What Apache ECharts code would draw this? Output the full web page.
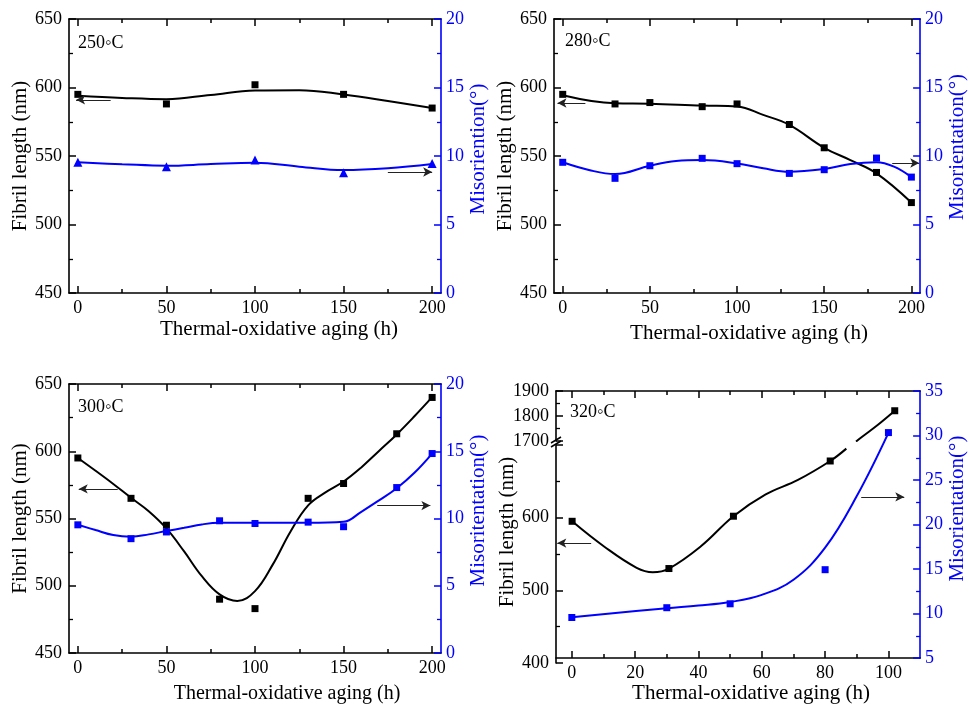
<!DOCTYPE html>
<html>
<head>
<meta charset="utf-8">
<script src="https://cdn.jsdelivr.net/npm/echarts@6/dist/echarts.min.js"></script>
<style>
  html, body { margin: 0; padding: 0; background: #fff; }
  #chart { width: 969px; height: 705px; }
</style>
</head>
<body>
<div id="chart"></div>
<script>
// ---------- 250 °C ----------
const hours250 = [0, 50, 100, 150, 200];
const length250 = [595, 588, 602, 595, 585];
const misor250 = [9.54, 9.22, 9.71, 8.78, 9.46];
const curveHours250 = [0, 25, 50, 75, 100, 125, 150, 175, 200];
const curveLength250 = [594, 592.4, 591.5, 594.6, 597.8, 598, 594.9, 590.2, 585];
const curveMisor250 = [9.54, 9.4, 9.29, 9.41, 9.5, 9.22, 8.97, 9.1, 9.41];

// ---------- 280 °C ----------
const hours280 = [0, 30, 50, 80, 100, 130, 150, 180, 200];
const length280 = [595, 588, 589, 586, 588, 573, 556, 538, 516];
const misor280 = [9.54, 8.37, 9.29, 9.83, 9.44, 8.73, 9.0, 9.85, 8.46];
const curveHoursLen280 = [0, 30, 50, 80, 100, 115, 130, 150, 165, 180, 200];
const curveLength280 = [594.4, 588.5, 588.2, 586.8, 586.2, 580, 572.7, 556, 547, 537.3, 516];
const curveHoursMis280 = [0, 15, 30, 50, 65, 80, 100, 115, 130, 150, 165, 180, 190, 200];
const curveMisor280 = [9.54, 8.98, 8.68, 9.29, 9.63, 9.7, 9.46, 9.1, 8.85, 9.05, 9.41, 9.54, 9.22, 8.46];

// ---------- 300 °C ----------
const hours300 = [0, 30, 50, 80, 100, 130, 150, 180, 200];
const length300 = [595, 565, 545, 490, 483, 565, 576, 613, 640];
const misor300 = [9.53, 8.5, 9.0, 9.83, 9.63, 9.73, 9.39, 12.3, 14.83];
const curveHoursLen300 = [0, 10, 20, 30, 40, 50, 60, 70, 80, 90, 100, 110, 120, 130, 140, 150, 160, 170, 180, 190, 200];
const curveLength300 = [595, 585.5, 575.7, 565.4, 555.4, 542.6, 525.5, 507.1, 493.6, 488.7, 496, 515.7, 540.2, 559.8, 569.6, 577.5, 588, 600.2, 612.5, 626, 640.2];
const curveHoursMis300 = [0, 10, 20, 30, 40, 50, 60, 70, 80, 100, 130, 150, 160, 170, 180, 190, 200];
const curveMisor300 = [9.53, 9.14, 8.77, 8.65, 8.82, 9.07, 9.31, 9.56, 9.68, 9.68, 9.68, 9.75, 10.5, 11.35, 12.25, 13.4, 14.83];

// ---------- 320 °C (broken length axis) ----------
const hours320 = [0, 30, 50, 80, 100];
const length320 = [595, 530, 602, 678, 1821];
const misor320 = [9.56, 10.66, 11.1, 14.93, 30.33];
const curveHoursLen320 = [0, 10, 20, 25, 30, 40, 50, 60, 70, 80, 85, 88, 90, 95, 100];
const curveLength320 = [595, 560, 531, 525, 530, 561, 602, 632, 652, 678, 695, 1698, 1718, 1767, 1821];
const curveHoursMis320 = [0, 30, 40, 50, 60, 70, 80, 90, 100];
const curveMisor320 = [9.6, 10.6, 10.9, 11.3, 12.1, 13.8, 17.4, 23.2, 30.3];

// ---------- tick labels ----------
const hourTicks200 = [0, 50, 100, 150, 200];
const hourMinor200 = [25, 75, 125, 175];
const hourTicks100 = [0, 20, 40, 60, 80, 100];
const hourMinor100 = [10, 30, 50, 70, 90];

const FONT = '"Liberation Serif", "Times New Roman", serif';
const BLACK = '#000000';
const BLUE = '#0000ff';
const X_TITLE = 'Thermal-oxidative aging (h)';
const Y_TITLE = 'Fibril length (nm)';

const option = {
  animation: false,
  backgroundColor: '#ffffff',
  grid: [], xAxis: [], yAxis: [], series: [], graphic: []
};

const pairs = (xs, ys) => xs.map((x, i) => [x, ys[i]]);
const plain = (v) => String(v);

function tick(color, len, values) {
  return { show: true, inside: true, length: len, customValues: values, lineStyle: { color, width: 1.5 } };
}

// Bottom axis with labels, plus mirrored top axis, each with major and minor ticks.
function addXAxes(gi, range, majors, minors, title) {
  const base = { gridIndex: gi, type: 'value', min: range[0], max: range[1], splitLine: { show: false } };
  const idx = option.xAxis.length;
  option.xAxis.push(Object.assign({}, base, {
    position: 'bottom',
    axisLine: { show: true, onZero: false, lineStyle: { color: BLACK, width: 1.6 } },
    axisTick: tick(BLACK, 7, majors),
    axisLabel: { customValues: majors, color: BLACK, fontFamily: FONT, fontSize: 18, margin: 6, formatter: plain },
    name: X_TITLE, nameLocation: 'middle', nameGap: title.gap,
    nameTextStyle: { color: BLACK, fontFamily: FONT, fontSize: title.size, padding: [0, 0, 0, title.shift * 2] }
  }));
  option.xAxis.push(Object.assign({}, base, {
    position: 'bottom', axisLine: { show: false, onZero: false },
    axisTick: tick(BLACK, 4, minors), axisLabel: { show: false, customValues: minors }
  }));
  option.xAxis.push(Object.assign({}, base, {
    position: 'top', axisLine: { show: true, onZero: false, lineStyle: { color: BLACK, width: 1.6 } },
    axisTick: tick(BLACK, 7, majors), axisLabel: { show: false, customValues: majors }
  }));
  option.xAxis.push(Object.assign({}, base, {
    position: 'top', axisLine: { show: false, onZero: false },
    axisTick: tick(BLACK, 4, minors), axisLabel: { show: false, customValues: minors }
  }));
  return idx;
}

function addYAxis(gi, side, color, min, max, interval, title, extra) {
  const idx = option.yAxis.length;
  const ax = {
    gridIndex: gi, type: 'value', position: side, min, max, interval,
    splitLine: { show: false },
    axisLine: { show: true, onZero: false, lineStyle: { color, width: 1.6 } },
    axisTick: { show: true, inside: true, length: 7, lineStyle: { color, width: 1.5 } },
    minorTick: { show: true, splitNumber: 2, length: 4, lineStyle: { color, width: 1.3 } },
    axisLabel: { color, fontFamily: FONT, fontSize: 18, margin: side === 'left' ? 7 : 5, formatter: plain }
  };
  if (title) {
    Object.assign(ax, {
      name: title.text, nameLocation: 'middle', nameGap: title.gap,
      nameTextStyle: { color, fontFamily: FONT, fontSize: 21, padding: [0, 0, 0, (title.shift || 0) * 2] }
    });
  }
  option.yAxis.push(Object.assign(ax, extra || {}));
  return idx;
}

function arrowLine(from, to) {
  return {
    silent: true,
    symbol: ['none', 'arrow'],
    symbolSize: [7, 9],
    label: { show: false },
    emphasis: { disabled: true },
    lineStyle: { color: '#222', width: 1, type: 'solid' },
    data: [[{ coord: from }, { coord: to }]]
  };
}

function addCurve(xi, yi, data, color, arrow) {
  const s = {
    type: 'line', xAxisIndex: xi, yAxisIndex: yi, data,
    smooth: 0.4, showSymbol: false, symbol: 'none',
    lineStyle: { color, width: 2 }, z: 2, silent: true
  };
  if (arrow) s.markLine = arrowLine(arrow[0], arrow[1]);
  option.series.push(s);
}

function addMarks(xi, yi, data, color, symbol, size) {
  option.series.push({
    type: 'scatter', xAxisIndex: xi, yAxisIndex: yi, data,
    symbol, symbolSize: size, itemStyle: { color, opacity: 1 }, z: 3, silent: true
  });
}

function addLabel(x, y, text) {
  option.graphic.push({
    type: 'text', x, y, z: 10, silent: true,
    style: { text, fill: BLACK, font: '18px "Liberation Serif", "Times New Roman", serif', align: 'left', verticalAlign: 'middle' }
  });
}

// Panels that share the 0–200 h layout with 450–650 nm and 0–20° axes.
function standardPanel(p) {
  const gi = option.grid.length;
  option.grid.push({ left: p.left, top: p.top, width: p.width, height: p.height });
  const xi = addXAxes(gi, [-5, 205], hourTicks200, hourMinor200, p.xTitle);
  const yl = addYAxis(gi, 'left', BLACK, 450, 650, 50, { text: Y_TITLE, gap: 37, shift: p.yShift || 0 });
  const yr = addYAxis(gi, 'right', BLUE, 0, 20, 5, { text: p.rightTitle, gap: 26, shift: p.rShift });
  addCurve(xi, yl, pairs(p.curveLenX, p.curveLen), BLACK, p.leftArrow);
  addCurve(xi, yr, pairs(p.curveMisX, p.curveMis), BLUE, p.rightArrow);
  addMarks(xi, yl, pairs(p.hours, p.length), BLACK, 'rect', 7);
  addMarks(xi, yr, pairs(p.hours, p.misor), BLUE, p.misSymbol, p.misSize);
  addLabel(p.label[0], p.label[1], p.label[2]);
}

standardPanel({
  left: 69, top: 19, width: 372, height: 274,
  xTitle: { gap: 26, size: 21, shift: 24 },
  rightTitle: 'Misoriention(°)', rShift: 7,
  hours: hours250, length: length250, misor: misor250,
  curveLenX: curveHours250, curveLen: curveLength250,
  curveMisX: curveHours250, curveMis: curveMisor250,
  misSymbol: 'triangle', misSize: 9,
  leftArrow: [[18.5, 591], [-1, 591]],
  rightArrow: [[175, 8.83], [200, 8.83]],
  label: [78, 43, '250◦C']
});

standardPanel({
  left: 554, top: 19, width: 372, height: 274,
  xTitle: { gap: 30, size: 21, shift: 12 },
  rightTitle: 'Misorientation(°)', rShift: 9,
  hours: hours280, length: length280, misor: misor280,
  curveLenX: curveHoursLen280, curveLen: curveLength280,
  curveMisX: curveHoursMis280, curveMis: curveMisor280,
  misSymbol: 'rect', misSize: 7,
  leftArrow: [[13, 588.7], [-3, 588.7]],
  rightArrow: [[189, 9.49], [204.5, 9.49]],
  label: [565, 41, '280◦C']
});

standardPanel({
  left: 69, top: 384, width: 372, height: 272,
  xTitle: { gap: 31, size: 20, shift: 32 },
  rightTitle: 'Misoritentation(°)', rShift: 8,
  hours: hours300, length: length300, misor: misor300,
  curveLenX: curveHoursLen300, curveLen: curveLength300,
  curveMisX: curveHoursMis300, curveMis: curveMisor300,
  misSymbol: 'rect', misSize: 7,
  leftArrow: [[22.5, 572], [0.5, 572]],
  rightArrow: [[169, 10.96], [199, 10.96]],
  label: [78, 407, '300◦C']
});

// ---------- 320 °C: full frame for the hour and misorientation axes,
// two stacked grids for the lower and upper parts of the broken length axis ----------
(function () {
  const L = 556, T = 391, W = 371, H = 272;
  const gFull = option.grid.length;
  option.grid.push({ left: L, top: T, width: W, height: H });
  const gLow = option.grid.length;
  option.grid.push({ left: L, top: 445, width: W, height: 218 });
  const gUp = option.grid.length;
  option.grid.push({ left: L, top: T, width: W, height: 50 });

  const range = [-5, 110];
  const xi = addXAxes(gFull, range, hourTicks100, hourMinor100, { gap: 21, size: 21, shift: 13 });
  const hidden = (gi) => {
    option.xAxis.push({ gridIndex: gi, type: 'value', min: range[0], max: range[1], show: false });
    return option.xAxis.length - 1;
  };
  const xLow = hidden(gLow);
  const xUp = hidden(gUp);

  const yr = addYAxis(gFull, 'right', BLUE, 5, 35, 5, { text: 'Misorientation(°)', gap: 25, shift: 16 });
  const yLow = addYAxis(gLow, 'left', BLACK, 400, 700, 100, { text: Y_TITLE, gap: 37, shift: 22 },
    { axisLabel: { color: BLACK, fontFamily: FONT, fontSize: 18, margin: 7, showMaxLabel: false, formatter: plain } });
  const yUp = addYAxis(gUp, 'left', BLACK, 1700, 1900, 100, null);

  const lenCurve = pairs(curveHoursLen320, curveLength320);
  const lenPts = pairs(hours320, length320);
  addCurve(xLow, yLow, lenCurve.filter(d => d[1] < 1000), BLACK, [[5.9, 565], [-4.6, 565]]);
  addCurve(xUp, yUp, lenCurve.filter(d => d[1] >= 1000), BLACK, null);
  addCurve(xi, yr, pairs(curveHoursMis320, curveMisor320), BLUE, [[91.4, 23.1], [105, 23.1]]);
  addMarks(xLow, yLow, lenPts.filter(d => d[1] < 1000), BLACK, 'rect', 7);
  addMarks(xUp, yUp, lenPts.filter(d => d[1] >= 1000), BLACK, 'rect', 7);
  addMarks(xi, yr, pairs(hours320, misor320), BLUE, 'rect', 7);
  addLabel(570, 412, '320◦C');

  // break symbol on the length axis
  [[443, 437], [447, 441]].forEach(([ya, yb]) => {
    option.graphic.push({
      type: 'line', silent: true, z: 10,
      shape: { x1: L - 5, y1: ya, x2: L + 5, y2: yb },
      style: { stroke: BLACK, lineWidth: 1.5 }
    });
  });
})();

const chart = echarts.init(document.getElementById('chart'), null, { renderer: 'canvas' });
chart.setOption(option);
</script>
</body>
</html>
